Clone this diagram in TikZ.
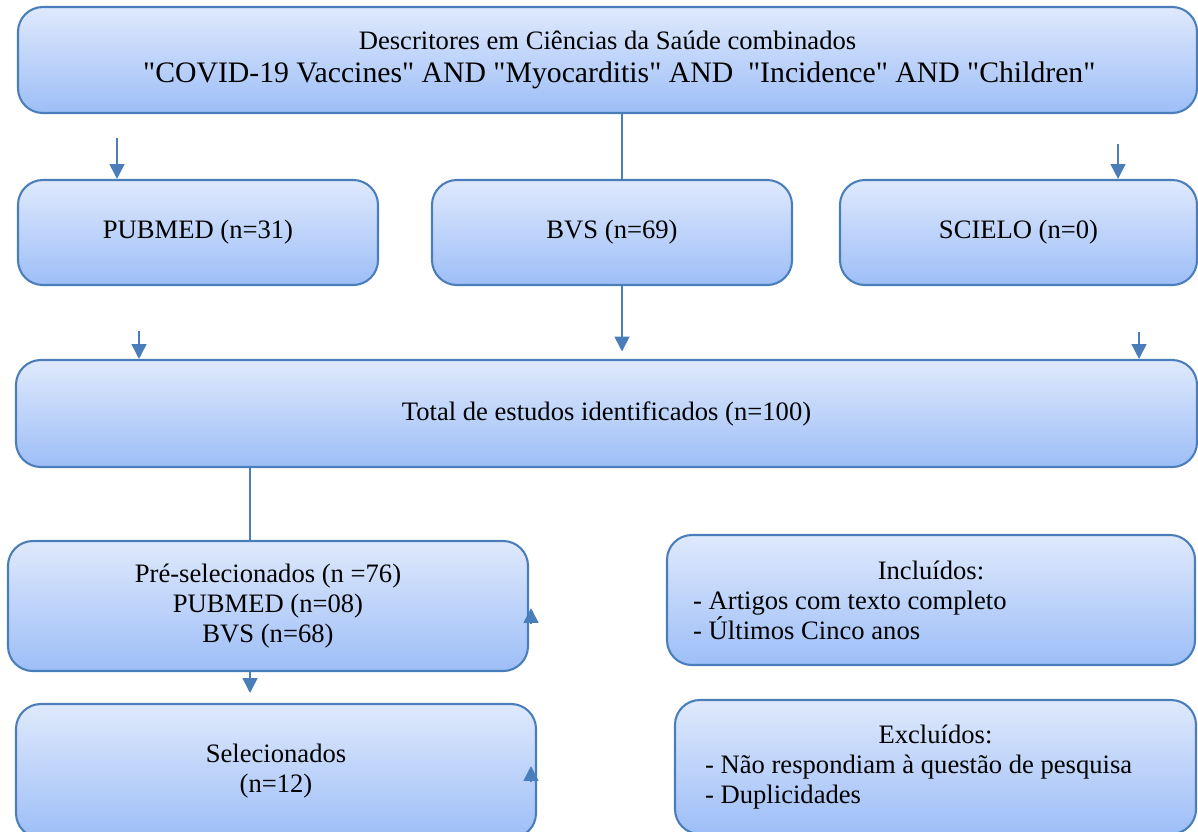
\documentclass[tikz,border=0pt]{standalone}
\usepackage{fontspec}
\setmainfont{Liberation Serif}
\usepackage{xcolor}
\usepackage{tikz}
\usetikzlibrary{arrows.meta,calc}
\definecolor{borda}{HTML}{4A7EBB}
\definecolor{claro}{HTML}{DFE9FC}
\definecolor{escuro}{HTML}{9DBEF7}
\def\u{0.0169cm}
\newcommand{\aspas}[1]{\textquotedbl#1\textquotedbl}

\begin{document}
\begin{tikzpicture}[x=0.0169cm,y=-0.0169cm,
		caixa/.style={draw=borda,line width=1pt,rounded corners=0.42cm,top color=claro,bottom color=escuro,inner sep=0pt,align=center,font=\fontsize{12.8}{14.5}\selectfont},
		seta/.style={draw=borda,line width=0.8pt,-{Triangle[width=7.2pt,length=7.2pt]}},
		linha/.style={draw=borda,line width=0.8pt}]
		\useasboundingbox (0,0) rectangle (1198,831);
		\clip (0,0) rectangle (1198,831);
		\node[caixa,minimum width=1179*\u,minimum height=106*\u] (busca) at (607.5,60) {Descritores em Ciências da Saúde combinados\\[1.5pt]\fontsize{14.3}{17.2}\selectfont\hspace*{0.4cm}\aspas{COVID-19 Vaccines} AND \aspas{Myocarditis} AND \ \aspas{Incidence} AND \aspas{Children}};
		\node[caixa,minimum width=360*\u,minimum height=105*\u] (pubmed) at (198,232.5) {PUBMED (n=31)};
		\node[caixa,minimum width=360*\u,minimum height=105*\u] (bvs) at (612,232.5) {BVS (n=69)};
		\node[caixa,minimum width=357*\u,minimum height=105*\u] (scielo) at (1018.5,232.5) {SCIELO (n=0)};
		\node[caixa,minimum width=1181*\u,minimum height=107*\u] (total) at (606.5,413.5) {Total de estudos identificados (n=100)};
		\node[caixa,minimum width=520*\u,minimum height=130*\u] (pre) at (268,606) {Pré-selecionados (n =76)\\PUBMED (n=08)\\BVS (n=68)};
		\node[caixa,minimum width=520*\u,minimum height=134*\u] (sel) at (276,771) {Selecionados\\(n=12)};
		\node[caixa,minimum width=528*\u,minimum height=130*\u,text width=8.04cm,align=flush left] (inc) at (931,600) {\makebox[\linewidth]{Incluídos:}\\- Artigos com texto completo\\- Últimos Cinco anos};
		\node[caixa,minimum width=521*\u,minimum height=134*\u,text width=7.79cm,align=flush left] (exc) at (935.5,767) {\makebox[\linewidth]{Excluídos:}\\- Não respondiam à questão de pesquisa\\- Duplicidades};
		\coordinate (p1) at (117,138);
		\coordinate (p2) at (1118,144);
		\coordinate (p3) at (622,0);
		\coordinate (p4) at (139,331);
		\coordinate (p5) at (1139,332);
		\coordinate (p6) at (250,0);
		\coordinate (p7) at (531,624);
		\coordinate (p8) at (531,782);
		\draw[seta] (p1) -- (p1 |- pubmed.north);
		\draw[seta] (p2) -- (p2 |- scielo.north);
		\draw[linha] (p3 |- busca.south) -- (p3 |- bvs.north);
		\draw[seta,shorten >=3.6pt] (p3 |- bvs.south) -- (p3 |- total.north);
		\draw[seta] (p4) -- (p4 |- total.north);
		\draw[seta] (p5) -- (p5 |- total.north);
		\draw[linha] (p6 |- total.south) -- (p6 |- pre.north);
		\draw[seta,shorten >=4.8pt] (p6 |- pre.south) -- (p6 |- sel.north);
		\draw[seta] (p7) -- ++(0,-16);
		\draw[seta] (p8) -- ++(0,-16);
	\end{tikzpicture}
\end{document}
